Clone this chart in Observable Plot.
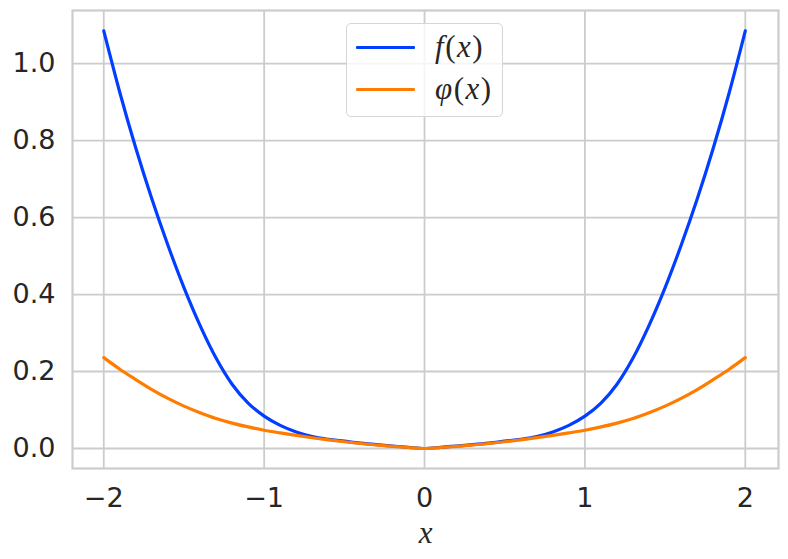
<!DOCTYPE html>
<html>
<head>
<meta charset="utf-8">
<script src="https://cdn.jsdelivr.net/npm/d3@7"></script>
<script src="https://cdn.jsdelivr.net/npm/@observablehq/plot@0.6"></script>
<style>
  html, body { margin: 0; padding: 0; background: white; }
  #wrap { position: relative; width: 788px; height: 559px; }
  #legend {
    position: absolute; left: 346px; top: 23px; width: 155px; height: 92px;
    border: 1.5px solid #d6d6d6; border-radius: 5px; background: rgba(255,255,255,0.8);
    font-family: "Liberation Serif", serif; font-size: 31px; color: #262626;
  }
  .row { position: absolute; left: 0; height: 40px; width: 100%; }
  .swatch { position: absolute; left: 9px; width: 59px; height: 3.2px; border-radius: 1px; }
  .lbl { position: absolute; left: 88px; line-height: 40px; top: 0; white-space: nowrap; letter-spacing: 1.5px; }
</style>
</head>
<body>
<div id="wrap"></div>
<script>
const xs = [-2, -1.9, -1.8, -1.7, -1.6, -1.5, -1.4, -1.3, -1.2, -1.1, -1.0, -0.9, -0.8, -0.7, -0.6, -0.5, -0.4, -0.3, -0.2, -0.1, 0,
            0.1, 0.2, 0.3, 0.4, 0.5, 0.6, 0.7, 0.8, 0.9, 1.0, 1.1, 1.2, 1.3, 1.4, 1.5, 1.6, 1.7, 1.8, 1.9, 2];
const fValues = [1.085, 0.925, 0.78, 0.648, 0.528, 0.418, 0.32, 0.235, 0.167, 0.118, 0.084, 0.060, 0.043, 0.031, 0.024, 0.019, 0.014, 0.010, 0.0065, 0.003, 0,
                 0.003, 0.0065, 0.010, 0.014, 0.019, 0.024, 0.031, 0.043, 0.060, 0.084, 0.118, 0.167, 0.235, 0.32, 0.418, 0.528, 0.648, 0.78, 0.925, 1.085];
const phiValues = [0.236, 0.206, 0.179, 0.153, 0.13, 0.11, 0.093, 0.078, 0.066, 0.056, 0.0475, 0.0405, 0.034, 0.028, 0.0225, 0.0175, 0.013, 0.009, 0.0055, 0.0025, 0,
                   0.0025, 0.0055, 0.009, 0.013, 0.0175, 0.0225, 0.028, 0.034, 0.0405, 0.0475, 0.056, 0.066, 0.078, 0.093, 0.11, 0.13, 0.153, 0.179, 0.206, 0.236];
const xTicks = [-2, -1, 0, 1, 2];
const yTicks = [0, 0.2, 0.4, 0.6, 0.8, 1.0];
const seriesNames = ["f", "φ"];
const seriesColors = ["#023eff", "#ff7c00"];
const xLabel = "x";

const fData = xs.map((x, i) => ({x, y: fValues[i]}));
const phiData = xs.map((x, i) => ({x, y: phiValues[i]}));

const chart = Plot.plot({
  width: 788,
  height: 559,
  marginLeft: 72,
  marginRight: 10,
  marginTop: 10,
  marginBottom: 91,
  style: {fontFamily: "DejaVu Sans", fontSize: "27px", color: "#262626", background: "white", overflow: "visible"},
  x: {domain: [-2.195, 2.207]},
  y: {domain: [-0.052, 1.138]},
  marks: [
    Plot.gridX(xTicks, {stroke: "#cccccc", strokeOpacity: 1, strokeWidth: 1.8}),
    Plot.gridY(yTicks, {stroke: "#cccccc", strokeOpacity: 1, strokeWidth: 1.8}),
    Plot.frame({stroke: "#cccccc", strokeWidth: 2.2}),
    Plot.axisX(xTicks, {tickSize: 0, tickPadding: 19, tickFormat: d3.format("d"), label: null}),
    Plot.axisY(yTicks, {tickSize: 0, tickPadding: 17, tickFormat: d3.format(".1f"), label: null}),
    Plot.line(fData, {x: "x", y: "y", stroke: seriesColors[0], strokeWidth: 3.2, curve: "monotone-x"}),
    Plot.line(phiData, {x: "x", y: "y", stroke: seriesColors[1], strokeWidth: 3.2, curve: "monotone-x"}),
    Plot.text([xLabel], {frameAnchor: "bottom", lineAnchor: "bottom", dy: 74, text: d => d, fontStyle: "italic", fontFamily: "Liberation Serif", fontSize: 31, fill: "#262626"})
  ]
});

const wrap = document.getElementById("wrap");
wrap.appendChild(chart);

const legend = document.createElement("div");
legend.id = "legend";
seriesNames.forEach((name, i) => {
  const row = document.createElement("div");
  row.className = "row";
  row.style.top = (3 + i * 42) + "px";
  const sw = document.createElement("div");
  sw.className = "swatch";
  sw.style.background = seriesColors[i];
  sw.style.top = "19px";
  const lbl = document.createElement("div");
  lbl.className = "lbl";
  lbl.innerHTML = `<i>${name}</i>(<i>x</i>)`;
  row.appendChild(sw);
  row.appendChild(lbl);
  legend.appendChild(row);
});
wrap.appendChild(legend);
</script>
</body>
</html>
